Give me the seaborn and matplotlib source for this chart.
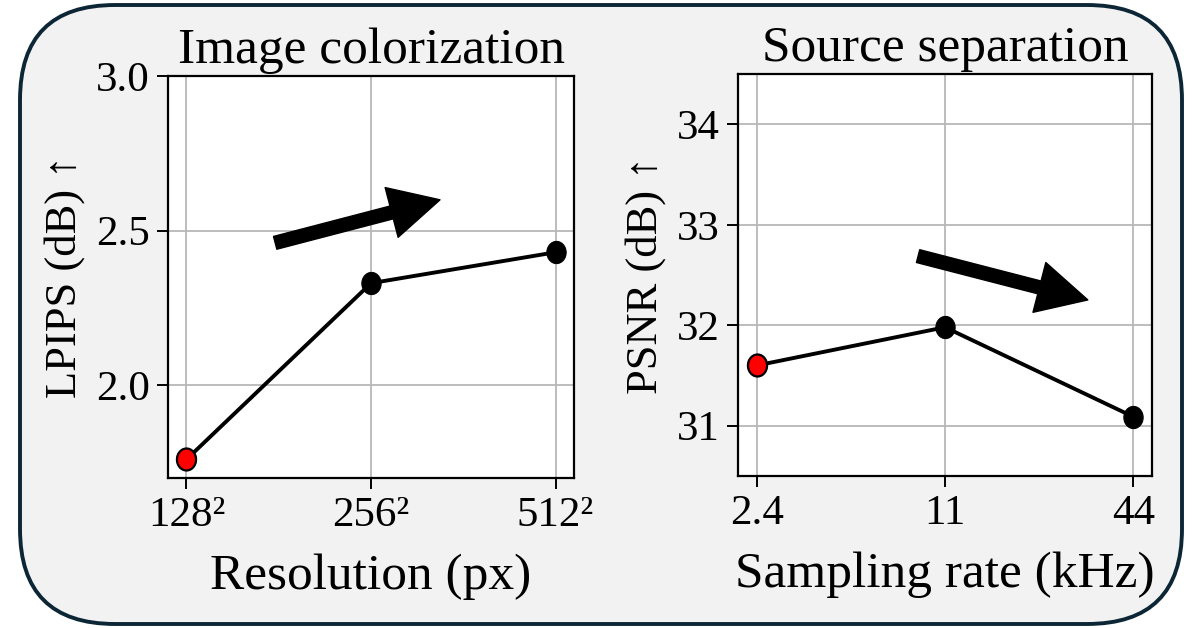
import numpy as np
import pandas as pd
import matplotlib
matplotlib.use("Agg")
import matplotlib.pyplot as plt
from matplotlib.patches import FancyBboxPatch
from matplotlib.path import Path
from matplotlib.transforms import IdentityTransform
import seaborn as sns

# ---- data ----
res_labels = ["128²", "256²", "512²"]
lpips_values = [1.76, 2.33, 2.43]

rate_labels = ["2.4", "11", "44"]
psnr_values = [31.60, 31.98, 31.09]

sns.set_theme(style="whitegrid")
plt.rcParams["font.family"] = ["Liberation Serif", "DejaVu Serif"]
plt.rcParams.update({
    "axes.edgecolor": "black",
    "axes.linewidth": 1.6,
    "grid.color": "#b8b8b8",
    "grid.linewidth": 1.3,
    "xtick.bottom": True,
    "ytick.left": True,
    "xtick.major.size": 8,
    "ytick.major.size": 8,
    "xtick.major.width": 1.4,
    "ytick.major.width": 1.4,
    "xtick.color": "black",
    "ytick.color": "black",
    "text.color": "black",
    "axes.labelcolor": "black",
})

W, H = 1195, 628
fig = plt.figure(figsize=(W / 100, H / 100), dpi=100)
fig.patch.set_facecolor("white")

# rounded panel behind both plots
panel = FancyBboxPatch((20, 4), 1162, 619,
                       boxstyle="round,pad=0,rounding_size=95",
                       transform=IdentityTransform(),
                       facecolor="#f2f2f2", edgecolor="#0c2636",
                       linewidth=2.8, zorder=-10)
fig.patches.append(panel)

# slightly tall oval marker
theta = np.linspace(0, 2 * np.pi, 60)
oval = Path(np.column_stack([0.87 * np.cos(theta), np.sin(theta)]), closed=True)

ax1 = fig.add_axes([168 / W, (H - 478) / H, 406 / W, 402 / H])
ax2 = fig.add_axes([738 / W, (H - 476) / H, 414 / W, 402 / H])

TICK = 31
TITLE = 37
XLAB = 37
YLAB = 32


def panel_plot(ax, labels, values, title, xlabel, ylabel, ylim, yticks, arrow):
    pos = np.arange(len(labels))
    df = pd.DataFrame({"x": pos, "y": values})
    sns.lineplot(data=df, x="x", y="y", ax=ax, color="black", linewidth=2.8,
                 marker=oval, markersize=16, markerfacecolor="black",
                 markeredgecolor="black", sort=False, zorder=3)
    sns.scatterplot(data=df.iloc[:1], x="x", y="y", ax=ax, color="red",
                    marker=oval, s=250, edgecolor="black", linewidth=1.6,
                    zorder=4)
    ax.set_facecolor("white")
    ax.set_xlim(-0.1, len(labels) - 0.9)
    ax.set_ylim(*ylim)
    ax.set_xticks(pos)
    ax.set_xticklabels(labels)
    ax.set_yticks(yticks)
    ax.tick_params(axis="both", labelsize=TICK, pad=5)
    ax.set_title(title, fontsize=TITLE, pad=9)
    ax.set_xlabel(xlabel, fontsize=XLAB, labelpad=14)
    ax.set_ylabel(ylabel, fontsize=YLAB, labelpad=8)
    for s in ax.spines.values():
        s.set_visible(True)
        s.set_color("black")
    (x0, y0), (x1, y1) = arrow
    ax.annotate("", xy=(x1, y1), xytext=(x0, y0),
                xycoords="axes fraction", textcoords="axes fraction",
                arrowprops=dict(arrowstyle="simple,head_length=36,head_width=37,tail_width=9.5",
                                mutation_scale=1, color="black",
                                shrinkA=0, shrinkB=0))


panel_plot(ax1, res_labels, lpips_values, "Image colorization",
           "Resolution (px)", "LPIPS (dB) ↑", (1.70, 3.0), [2.0, 2.5, 3.0],
           ((0.264, 0.585), (0.670, 0.692)))
ax1.yaxis.set_major_formatter(matplotlib.ticker.FormatStrFormatter("%.1f"))

panel_plot(ax2, rate_labels, psnr_values, "Source separation",
           "Sampling rate (kHz)", "PSNR (dB) ↑", (30.5, 34.5), [31, 32, 33, 34],
           ((0.435, 0.547), (0.845, 0.438)))

fig.savefig("out.png", dpi=100, facecolor="white")
